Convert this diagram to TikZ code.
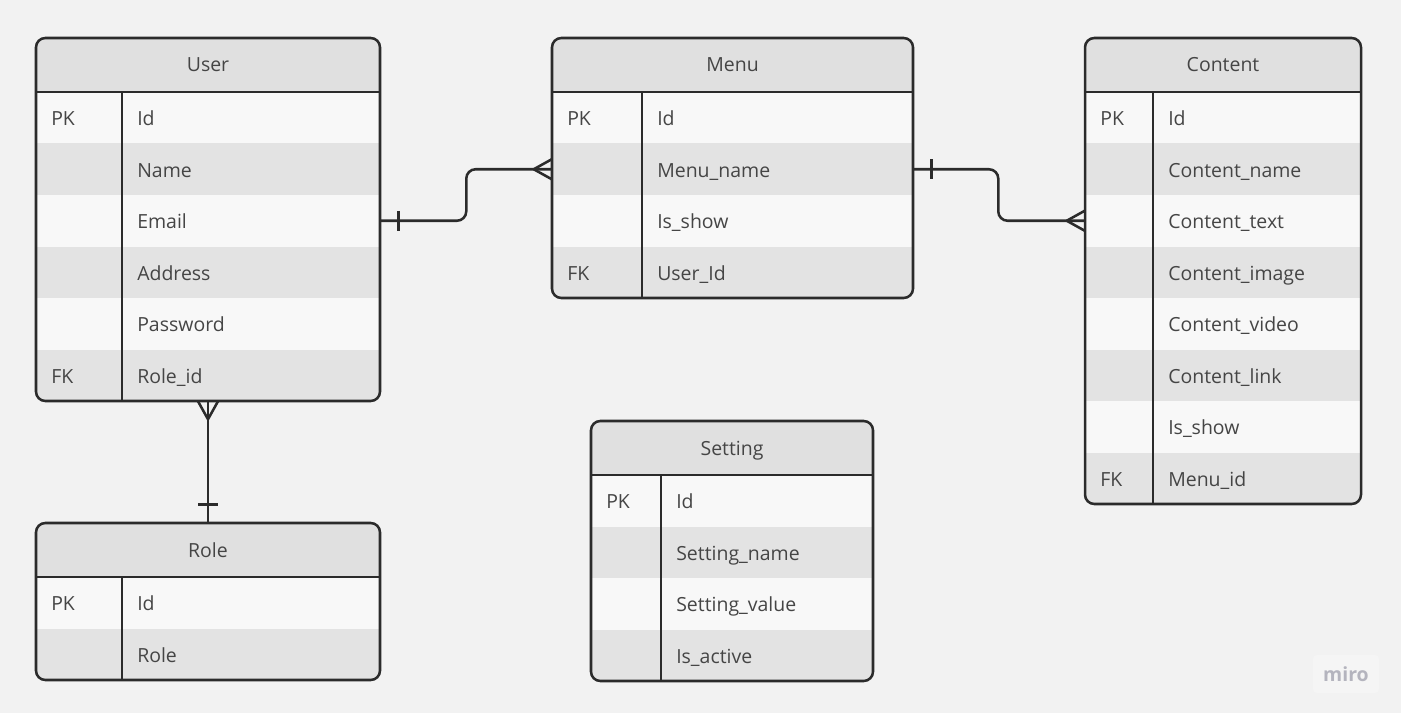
\documentclass[tikz,border=0pt]{standalone}
\usepackage{xcolor}
\usepackage{fontspec}
\setmainfont{Open Sans}
\usepackage{tikz}
\usetikzlibrary{calc}

\definecolor{bggray}{HTML}{F2F2F2}
\definecolor{headgray}{HTML}{E0E0E0}
\definecolor{rowlight}{HTML}{F8F8F8}
\definecolor{rowdark}{HTML}{E3E3E3}
\definecolor{linegray}{HTML}{2B2B2B}
\definecolor{textgray}{HTML}{454545}
\definecolor{mirogray}{HTML}{B4B4BE}
\definecolor{mirobg}{HTML}{F5F5F5}

\def\px{0.75pt}

\tikzset{
  border/.style={draw=linegray, line width=1.9pt},
  conn/.style={draw=linegray, line width=1.9pt},
  celltext/.style={anchor=west, inner sep=0pt, text=textgray, text height=10.5pt, text depth=0pt, yshift=-0.75pt},
  headbox/.style={fill=headgray, inner sep=0pt, text=textgray, text height=10.5pt, text depth=0pt, minimum height=54*\px},
  rowbox/.style={inner sep=0pt, minimum height=51.5*\px},
  crowsfoot/.pic={\draw[conn] (-18,0) -- (0,-10) (-18,0) -- (0,10);},
  onebar/.pic={\draw[conn] (18,-10) -- (18,10);},
  mirologo/.style={fill=mirobg, rounded corners=3pt, text=mirogray, font=\fontsize{14.6}{17}\selectfont\bfseries, minimum width=66*\px, minimum height=38*\px, inner sep=0pt}
}

% #1 name, #2 title, #3 x, #4 y, #5 width, #6 key column, #7 number of rows, #8 rows
\newcommand{\erentity}[8]{%
  \pgfmathsetmacro{\erh}{54+#7*51.5}
  \begin{scope}
    \clip[rounded corners=7pt] (#3,#4) rectangle ++(#5,\erh);
    \node[headbox, minimum width=#5*\px] (#1-head) at (#3+#5/2,#4+27) {#2};
    \foreach \k/\f [count=\i] in {#8} {
      \pgfmathsetmacro{\rowy}{#4+54+(\i-0.5)*51.5}
      \ifodd\i \def\rowcol{rowlight}\else \def\rowcol{rowdark}\fi
      \node[rowbox, fill=\rowcol, minimum width=#5*\px] (#1-\i) at (#3+#5/2,\rowy) {};
      \node[celltext] at (#3+15,\rowy) {\k};
      \node[celltext] at (#3+#6+15,\rowy) {\f};
    }
  \end{scope}
  \draw[border, rounded corners=7pt] (#3,#4) rectangle ++(#5,\erh);
  \draw[border] (#3,#4+54) -- ++(#5,0);
  \draw[border] (#3+#6,#4+54) -- (#3+#6,#4+\erh);
}

\begin{document}
\begin{tikzpicture}[x=0.75pt,y=-0.75pt,font=\fontsize{14.6}{17}\selectfont]
\fill[bggray] (0,0) rectangle (1401,713);
\useasboundingbox (0,0) rectangle (1401,713);

\erentity{user}{User}{36}{38}{344}{86}{6}{PK/Id,/Name,/Email,/Address,/Password,FK/Role\_id}
\erentity{menu}{Menu}{552}{38}{361}{90}{4}{PK/Id,/Menu\_name,/Is\_show,FK/User\_Id}
\erentity{content}{Content}{1085}{38}{276}{68}{8}{PK/Id,/Content\_name,/Content\_text,/Content\_image,/Content\_video,/Content\_link,/Is\_show,FK/Menu\_id}
\erentity{role}{Role}{36}{523}{344}{86}{2}{PK/Id,/Role}
\erentity{setting}{Setting}{591}{421}{282}{70}{4}{PK/Id,/Setting\_name,/Setting\_value,/Is\_active}

%Relations
\draw[conn, rounded corners=7pt] (user-3.east) -- ++(86,0) |- (menu-2.west);
\pic at (user-3.east) {onebar};
\pic at (menu-2.west) {crowsfoot};

\draw[conn, rounded corners=7pt] (menu-2.east) -- ++(85,0) |- (content-3.west);
\pic at (menu-2.east) {onebar};
\pic at (content-3.west) {crowsfoot};

\draw[conn] (user-6.south) -- (role-head.north);
\pic[rotate=90] at (user-6.south) {crowsfoot};
\pic[rotate=90] at (role-head.north) {onebar};

%Logo
\node[mirologo] (logo) at (1346,674) {miro};
\end{tikzpicture}
\end{document}
